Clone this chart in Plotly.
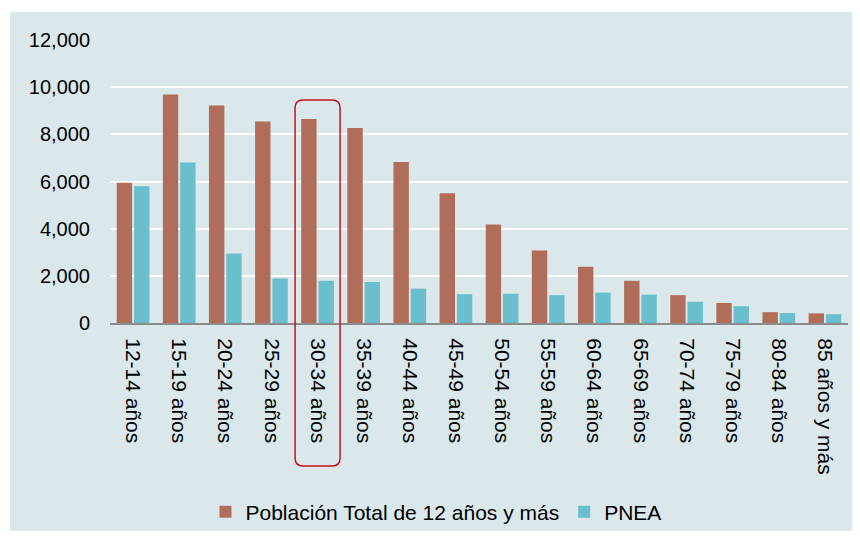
import plotly.graph_objects as go

categories = ["12-14 años", "15-19 años", "20-24 años", "25-29 años", "30-34 años",
              "35-39 años", "40-44 años", "45-49 años", "50-54 años", "55-59 años",
              "60-64 años", "65-69 años", "70-74 años", "75-79 años", "80-84 años",
              "85 años y más"]
poblacion_total = [5950, 9690, 9220, 8540, 8650, 8270, 6830, 5500, 4180, 3070,
                   2390, 1790, 1180, 850, 460, 410]
pnea = [5800, 6810, 2950, 1890, 1790, 1740, 1460, 1220, 1240, 1180,
        1290, 1200, 900, 710, 420, 370]
y_ticks = [0, 2000, 4000, 6000, 8000, 10000, 12000]
highlight_category = "30-34 años"

BROWN = "#B06D5A"
TEAL = "#6BBFCC"
PANEL = "#DAE8EB"

fig = go.Figure()
fig.add_trace(go.Bar(name="Población Total de 12 años y más", x=categories, y=poblacion_total,
                     marker=dict(color=BROWN, line=dict(width=0))))
fig.add_trace(go.Bar(name="PNEA", x=categories, y=pnea,
                     marker=dict(color=TEAL, line=dict(width=0))))

# page body has an 8px margin, so the figure is offset by 8px
OFF = 8
W, H = 860 - OFF, 539 - OFF
ml, mt = 110 - OFF, 40 - OFF
mr = W - (848 - OFF)
mb = H - (323 - OFF)
pw = W - ml - mr
ph = H - mt - mb

def px_x(x):
    return (x - OFF - ml) / pw

def px_y(y):
    return (H - mb - (y - OFF)) / ph

shapes = []
# background panel
shapes.append(dict(type="rect", xref="paper", yref="paper",
                   x0=px_x(10), x1=px_x(862), y0=px_y(531), y1=px_y(12),
                   fillcolor=PANEL, line=dict(width=0), layer="below"))

# highlight rounded rectangle around the category
idx = categories.index(highlight_category)
n = len(categories)
cx = (idx + 0.5) / n
hw = 22.5 / pw
x0, x1 = cx - hw, cx + hw
y1 = px_y(100)
y0 = px_y(466)
rx = 8 / pw
ry = 8 / ph
path = (f"M {x0+rx},{y1} L {x1-rx},{y1} Q {x1},{y1} {x1},{y1-ry} "
        f"L {x1},{y0+ry} Q {x1},{y0} {x1-rx},{y0} "
        f"L {x0+rx},{y0} Q {x0},{y0} {x0},{y0+ry} "
        f"L {x0},{y1-ry} Q {x0},{y1} {x0+rx},{y1} Z")
shapes.append(dict(type="path", xref="paper", yref="paper", path=path,
                   line=dict(color="#C8101E", width=1.5), layer="above"))

FS = 21
fig.update_layout(
    width=W, height=H,
    margin=dict(l=ml, r=mr, t=mt, b=mb, autoexpand=False),
    paper_bgcolor="white",
    plot_bgcolor="rgba(0,0,0,0)",
    barmode="group",
    bargap=0.25,
    bargroupgap=0.11,
    font=dict(family="Liberation Sans, Arial, sans-serif", size=FS, color="#000000"),
    shapes=shapes,
    showlegend=True,
    legend=dict(orientation="h", x=px_x(436), xanchor="center", y=px_y(512), yanchor="middle",
                bgcolor="rgba(0,0,0,0)", font=dict(size=FS), itemwidth=30,
                traceorder="normal"),
    xaxis=dict(type="category", tickangle=90, showgrid=False, showline=True,
               linecolor="#8C8C8C", linewidth=2, ticks="", tickfont=dict(size=FS),
               ticklabelstandoff=9),
    yaxis=dict(range=[0, 12000], tickvals=y_ticks, tickformat=",d", showgrid=True,
               gridcolor="white", gridwidth=2, zeroline=False, showline=False,
               ticks="", tickfont=dict(size=20), ticklabelstandoff=19),
)

fig.write_html("out.html")
